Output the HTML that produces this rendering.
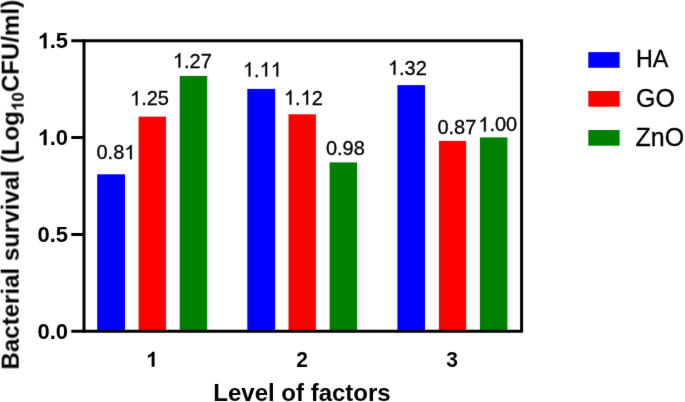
<!DOCTYPE html>
<html><head><meta charset="utf-8">
<style>
html,body{margin:0;padding:0;background:#fff;}
body{width:685px;height:402px;overflow:hidden;}
svg{display:block;will-change:transform;}
text{font-family:"Liberation Sans", sans-serif;fill:#000;font-kerning:none;}
text.r{stroke:#000;stroke-width:0.3;stroke-linejoin:round;}
path.gr{stroke:#000;stroke-width:0.3;stroke-linejoin:round;vector-effect:non-scaling-stroke;}
.b{font-weight:bold;}
</style></head><body>
<svg width="685" height="402" viewBox="0 0 685 402">
<defs><filter id="bl" x="-2%" y="-2%" width="104%" height="104%"><feConvolveMatrix order="3" kernelMatrix="0.00524 0.06192 0.00524 0.06192 0.73137 0.06192 0.00524 0.06192 0.00524" divisor="1" preserveAlpha="false" edgeMode="none"/></filter></defs>
<rect x="0" y="0" width="685" height="402" fill="#fff"/>
<g filter="url(#bl)">
<rect x="97.2" y="174.3" width="27.8" height="157" fill="#0000ff"/>
<rect x="138.6" y="116.6" width="27.4" height="214.7" fill="#ff0000"/>
<rect x="179.7" y="75.9" width="27.5" height="255.4" fill="#008000"/>
<rect x="247.3" y="88.9" width="27.8" height="242.4" fill="#0000ff"/>
<rect x="288.5" y="114.3" width="27.4" height="217" fill="#ff0000"/>
<rect x="329.6" y="162.4" width="27.4" height="168.9" fill="#008000"/>
<rect x="397.4" y="85.1" width="27.6" height="246.2" fill="#0000ff"/>
<rect x="438.9" y="140.9" width="27.2" height="190.4" fill="#ff0000"/>
<rect x="479.9" y="137.4" width="27.5" height="193.9" fill="#008000"/>
<path d="M84 40.75H521.6V331.3H84Z" fill="none" stroke="#000" stroke-width="3"/>
<path d="M71.3 40.75H84M71.3 137.6H84M71.3 234.5H84M71.3 331.3H84" stroke="#000" stroke-width="3"/>
<path class="gb" d="M856 0H575V1059Q421 915 212 846V1101Q322 1137 451 1237Q580 1337 628 1466H856Z" transform="translate(37.42,48.4) scale(0.010742,-0.010742)"/>
<text class="b" font-size="22" transform="translate(49.65,48.4) scale(1,1.04)">.5</text>
<path class="gb" d="M856 0H575V1059Q421 915 212 846V1101Q322 1137 451 1237Q580 1337 628 1466H856Z" transform="translate(37.42,145.25) scale(0.010742,-0.010742)"/>
<text class="b" font-size="22" transform="translate(49.65,145.25) scale(1,1.04)">.0</text>
<text class="b" font-size="22" transform="translate(37.42,242.1) scale(1,1.04)">0.5</text>
<text class="b" font-size="22" transform="translate(37.42,338.95) scale(1,1.04)">0.0</text>
<path class="gb" d="M856 0H575V1059Q421 915 212 846V1101Q322 1137 451 1237Q580 1337 628 1466H856Z" transform="translate(145.76,366.7) scale(0.010254,-0.010254)"/>
<text class="b" font-size="21" transform="translate(296.22,366.7) scale(1,1.04)">2</text>
<text class="b" font-size="21" transform="translate(446.3,366.7) scale(1,1.04)">3</text>
<text class="b" x="213.31" y="400.9" font-size="24">Level of factors</text>
<text class="r" font-size="20" transform="translate(96.49,159.36) scale(1,1.04)">0.8</text>
<path class="gr" d="M763 0H583V1147Q518 1085 412 1023Q306 961 223 930V1104Q368 1172 477 1269Q586 1366 631 1466H763Z" transform="translate(124.29,159.36) scale(0.009766,-0.009766)"/>
<path class="gr" d="M763 0H583V1147Q518 1085 412 1023Q306 961 223 930V1104Q368 1172 477 1269Q586 1366 631 1466H763Z" transform="translate(130.02,105.36) scale(0.009766,-0.009766)"/>
<text class="r" font-size="20" transform="translate(141.14,105.36) scale(1,1.04)">.25</text>
<path class="gr" d="M763 0H583V1147Q518 1085 412 1023Q306 961 223 930V1104Q368 1172 477 1269Q586 1366 631 1466H763Z" transform="translate(172.85,67.56) scale(0.009766,-0.009766)"/>
<text class="r" font-size="20" transform="translate(183.97,67.56) scale(1,1.04)">.27</text>
<path class="gr" d="M763 0H583V1147Q518 1085 412 1023Q306 961 223 930V1104Q368 1172 477 1269Q586 1366 631 1466H763Z" transform="translate(242.94,76.56) scale(0.009766,-0.009766)"/>
<text class="r" font-size="20" transform="translate(254.06,76.56) scale(1,1.04)">.</text>
<path class="gr" d="M763 0H583V1147Q518 1085 412 1023Q306 961 223 930V1104Q368 1172 477 1269Q586 1366 631 1466H763Z" transform="translate(259.62,76.56) scale(0.009766,-0.009766)"/>
<path class="gr" d="M763 0H583V1147Q518 1085 412 1023Q306 961 223 930V1104Q368 1172 477 1269Q586 1366 631 1466H763Z" transform="translate(270.74,76.56) scale(0.009766,-0.009766)"/>
<path class="gr" d="M763 0H583V1147Q518 1085 412 1023Q306 961 223 930V1104Q368 1172 477 1269Q586 1366 631 1466H763Z" transform="translate(283.95,104.66) scale(0.009766,-0.009766)"/>
<text class="r" font-size="20" transform="translate(295.07,104.66) scale(1,1.04)">.</text>
<path class="gr" d="M763 0H583V1147Q518 1085 412 1023Q306 961 223 930V1104Q368 1172 477 1269Q586 1366 631 1466H763Z" transform="translate(300.63,104.66) scale(0.009766,-0.009766)"/>
<text class="r" font-size="20" transform="translate(311.75,104.66) scale(1,1.04)">2</text>
<text class="r" font-size="20" transform="translate(325.88,154.78) scale(1,1.04)">0.98</text>
<path class="gr" d="M763 0H583V1147Q518 1085 412 1023Q306 961 223 930V1104Q368 1172 477 1269Q586 1366 631 1466H763Z" transform="translate(387.95,74.86) scale(0.009766,-0.009766)"/>
<text class="r" font-size="20" transform="translate(399.07,74.86) scale(1,1.04)">.32</text>
<text class="r" font-size="20" transform="translate(437.4,133.63) scale(1,1.04)">0.87</text>
<path class="gr" d="M763 0H583V1147Q518 1085 412 1023Q306 961 223 930V1104Q368 1172 477 1269Q586 1366 631 1466H763Z" transform="translate(478.29,131.41) scale(0.009766,-0.009766)"/>
<text class="r" font-size="20" transform="translate(489.41,131.41) scale(1,1.04)">.00</text>
<rect x="588.3" y="52.1" width="31.3" height="15.7" fill="#0000ff"/>
<rect x="588.3" y="91" width="31.3" height="15.7" fill="#ff0000"/>
<rect x="588.3" y="130" width="31.3" height="15.7" fill="#008000"/>
<text class="r" font-size="23.3" transform="translate(636,67.1) scale(1,1.04)">HA</text>
<text class="r" font-size="25" transform="translate(636,106.8) scale(1,1.04)">GO</text>
<text class="r" font-size="25" transform="translate(635.5,145.6) scale(1,1.04)">ZnO</text>
<g transform="translate(18.7,369.6) rotate(-90)">
<text class="b" x="0" y="0" font-size="24.1">Bacterial survival (Log</text>
<path class="gb" d="M856 0H575V1059Q421 915 212 846V1101Q322 1137 451 1237Q580 1337 628 1466H856Z" transform="translate(258.5,5) scale(0.008301,-0.008301)"/>
<text class="b" x="267.95" y="5" font-size="17">0</text>
<text class="b" x="277.41" y="0" font-size="24.1">CFU/ml)</text>
</g>
</g>
</svg>
</body></html>
